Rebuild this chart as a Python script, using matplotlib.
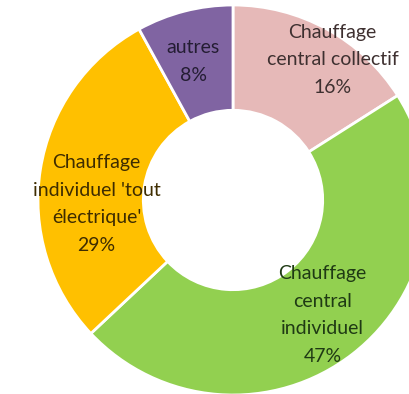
import matplotlib
matplotlib.use("Agg")
import matplotlib.pyplot as plt

categories = ["Chauffage\ncentral collectif", "Chauffage\ncentral\nindividuel",
              "Chauffage\nindividuel 'tout\nélectrique'", "autres"]
values = [16, 47, 29, 8]
colors = ["#E6B9B8", "#92D050", "#FFC000", "#8064A2"]
text_colors = ["#3e3030", "#1f3a14", "#3e2c00", "#241d33"]
label_pos = [(0.51, 0.72), (0.46, -0.59), (-0.70, -0.02), (-0.205, 0.71)]

fig = plt.figure(figsize=(4.10, 3.94), dpi=100)
ax = fig.add_axes([0, 0, 1, 1])
ax.pie(values, colors=colors, startangle=90, counterclock=False, radius=1.0,
       wedgeprops=dict(width=0.54, edgecolor="white", linewidth=2))
for cat, v, (x, y), tc in zip(categories, values, label_pos, text_colors):
    ax.text(x, y, f"{cat}\n{v}%", ha="center", va="center", fontsize=14,
            family="Lato", color=tc, linespacing=1.75)
ax.set_xlim(-233/195, (410-233)/195)
ax.set_ylim(-(394-200)/195, 200/195)
ax.set_aspect("auto")
ax.axis("off")
fig.savefig("out.png", dpi=100)
